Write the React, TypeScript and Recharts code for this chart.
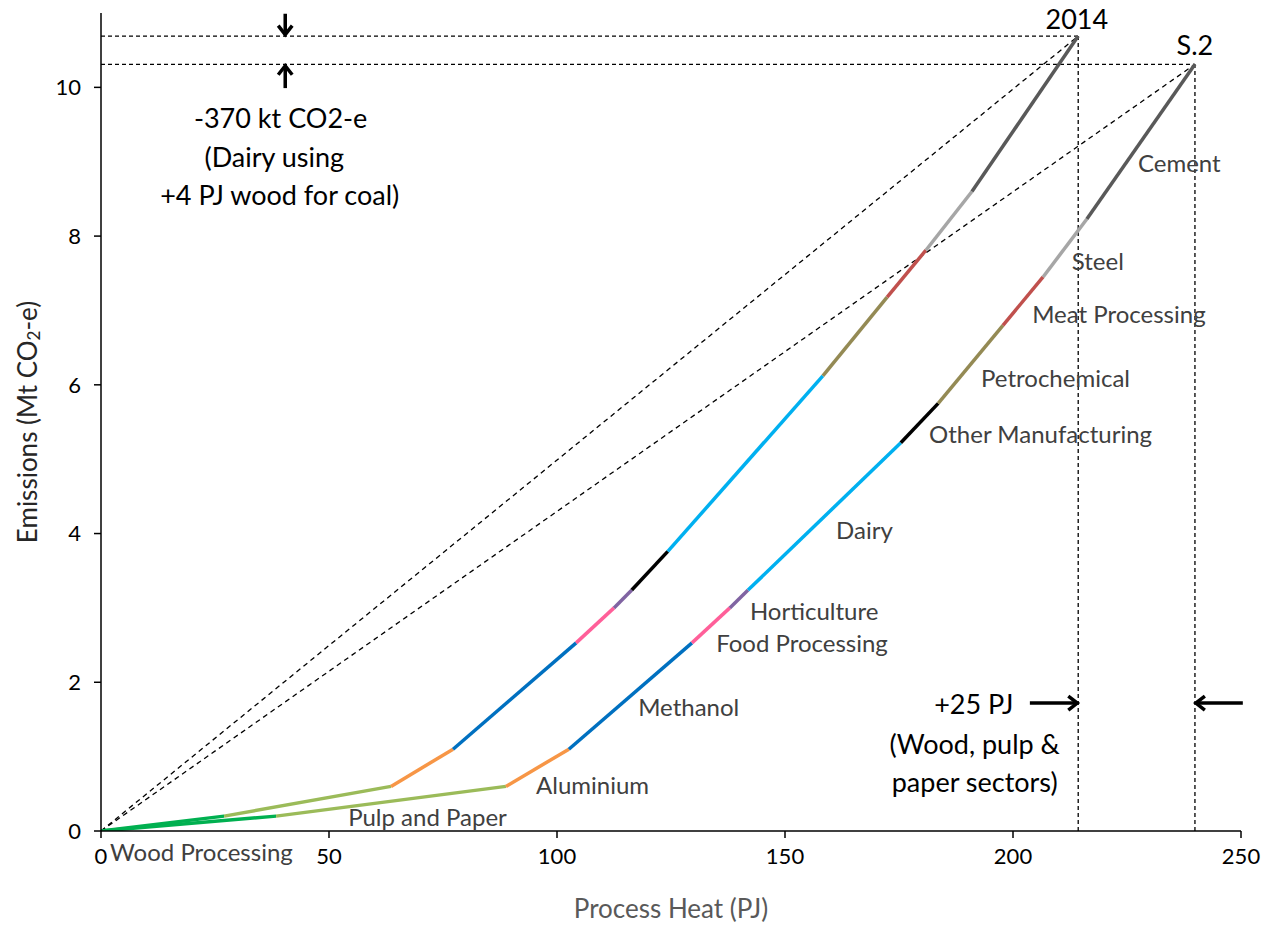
import { Line, LineChart, ReferenceDot, ReferenceLine, XAxis, YAxis } from "recharts";

const FONT = "Lato, 'Open Sans', sans-serif";

// sector order along each curve
const sectors2014 = [
  "Wood Processing",
  "Pulp and Paper",
  "Aluminium",
  "Methanol",
  "Food Processing",
  "Horticulture",
  "Other Manufacturing",
  "Dairy",
  "Petrochemical",
  "Meat Processing",
  "Steel",
  "Cement",
];
const heat2014 = [0, 27.0, 63.6, 77.2, 104.2, 112.5, 116.4, 124.3, 158.3, 172.4, 180.9, 191.0, 214.3];
const emis2014 = [0, 0.2, 0.6, 1.1, 2.53, 3.0, 3.24, 3.76, 6.12, 7.18, 7.81, 8.6, 10.69];

const sectorsS2 = [
  "Wood Processing",
  "Pulp and Paper",
  "Aluminium",
  "Methanol",
  "Food Processing",
  "Horticulture",
  "Dairy",
  "Other Manufacturing",
  "Petrochemical",
  "Meat Processing",
  "Steel",
  "Cement",
];
const heatS2 = [0, 38.4, 88.8, 102.6, 129.6, 137.9, 141.9, 175.4, 183.6, 197.8, 206.6, 216.2, 239.9];
const emisS2 = [0, 0.2, 0.6, 1.1, 2.53, 3.0, 3.24, 5.22, 5.75, 6.8, 7.45, 8.23, 10.31];

const xTicks = [0, 50, 100, 150, 200, 250];
const yTicks = [0, 2, 4, 6, 8, 10];

const sectorColors: Record<string, string> = {
  "Wood Processing": "#00B050",
  "Pulp and Paper": "#9BBB59",
  Aluminium: "#F79646",
  Methanol: "#0070C0",
  "Food Processing": "#FF5F99",
  Horticulture: "#8064A2",
  "Other Manufacturing": "#000000",
  Dairy: "#00B0F0",
  Petrochemical: "#948A54",
  "Meat Processing": "#C0504D",
  Steel: "#A6A6A6",
  Cement: "#595959",
};

// sector label anchors (left edge, vertical centre) in data units
const sectorLabels = [
  { text: "Wood Processing", x: 2.0, y: -0.27 },
  { text: "Pulp and Paper", x: 54.2, y: 0.19 },
  { text: "Aluminium", x: 95.4, y: 0.62 },
  { text: "Methanol", x: 117.8, y: 1.67 },
  { text: "Food Processing", x: 134.9, y: 2.54 },
  { text: "Horticulture", x: 142.3, y: 2.97 },
  { text: "Dairy", x: 161.2, y: 4.05 },
  { text: "Other Manufacturing", x: 181.6, y: 5.35 },
  { text: "Petrochemical", x: 193.0, y: 6.1 },
  { text: "Meat Processing", x: 204.2, y: 6.96 },
  { text: "Steel", x: 212.9, y: 7.67 },
  { text: "Cement", x: 227.4, y: 8.99 },
];

// centred black annotations
const notes = [
  { text: "2014", x: 214.0, y: 10.93 },
  { text: "S.2", x: 239.9, y: 10.58 },
  { text: "-370 kt CO2-e", x: 39.4, y: 9.6 },
  { text: "(Dairy using", x: 38.0, y: 9.07 },
  { text: "+4 PJ wood for coal)", x: 39.2, y: 8.56 },
  { text: "+25 PJ", x: 191.4, y: 1.72 },
  { text: "(Wood, pulp &", x: 191.6, y: 1.18 },
  { text: "paper sectors)", x: 191.6, y: 0.67 },
];

const arrows = [
  { from: { x: 40.4, y: 10.99 }, to: { x: 40.4, y: 10.71 } },
  { from: { x: 40.4, y: 9.99 }, to: { x: 40.4, y: 10.29 } },
  { from: { x: 203.7, y: 1.72 }, to: { x: 214.1, y: 1.72 } },
  { from: { x: 250.4, y: 1.72 }, to: { x: 240.1, y: 1.72 } },
];

const segments = (heat: number[], emis: number[], sectors: string[]) =>
  sectors.map((name, i) => ({
    name,
    data: [
      { x: heat[i], y: emis[i] },
      { x: heat[i + 1], y: emis[i + 1] },
    ],
  }));

const seg2014 = segments(heat2014, emis2014, sectors2014);
const segS2 = segments(heatS2, emisS2, sectorsS2);

const ends = [
  { x: heat2014[heat2014.length - 1], y: emis2014[emis2014.length - 1] },
  { x: heatS2[heatS2.length - 1], y: emisS2[emisS2.length - 1] },
];

const Arrow = (props: any) => {
  const { x1, y1, x2, y2 } = props;
  const dx = x2 - x1;
  const dy = y2 - y1;
  const len = Math.sqrt(dx * dx + dy * dy) || 1;
  const ux = dx / len;
  const uy = dy / len;
  const h = 9;
  const w = 7;
  const bx = x2 - ux * h;
  const by = y2 - uy * h;
  return (
    <g>
      <line x1={x1} y1={y1} x2={x2 - ux * 2} y2={y2 - uy * 2} stroke="#000" strokeWidth={3.5} />
      <polyline
        points={`${bx - uy * w},${by + ux * w} ${x2},${y2} ${bx + uy * w},${by - ux * w}`}
        fill="none"
        stroke="#000"
        strokeWidth={3.5}
      />
    </g>
  );
};

const YTitle = (props: any) => {
  const vb = props.viewBox;
  const cx = vb.x + 27;
  const cy = vb.y + vb.height / 2;
  return (
    <text
      x={cx}
      y={cy}
      transform={`rotate(-90 ${cx} ${cy})`}
      textAnchor="middle"
      dominantBaseline="central"
      fontFamily={FONT}
      fontSize={26}
      fill="#262626"
    >
      Emissions (Mt CO
      <tspan fontSize={17} dy={6}>2</tspan>
      <tspan dy={-6}>-e)</tspan>
    </text>
  );
};

const XTitle = (props: any) => {
  const vb = props.viewBox;
  return (
    <text
      x={vb.x + vb.width / 2}
      y={vb.y + 77}
      textAnchor="middle"
      dominantBaseline="central"
      fontFamily={FONT}
      fontSize={26}
      fill="#595959"
    >
      Process Heat (PJ)
    </text>
  );
};

const textShape = (text: string, anchor: string, size: number, color: string) => (p: any) => (
  <text
    x={p.cx}
    y={p.cy}
    textAnchor={anchor}
    dominantBaseline="central"
    fontFamily={FONT}
    fontSize={size}
    fill={color}
  >
    {text}
  </text>
);

export default function App() {
  return (
    <div style={{ position: "absolute", left: 0, top: 0, background: "#fff" }}>
      <LineChart width={1267} height={926} margin={{ top: 13, right: 26, left: 0, bottom: 0 }}>
        <XAxis
          type="number"
          dataKey="x"
          domain={[0, 250]}
          ticks={xTicks}
          allowDataOverflow
          height={95}
          tickSize={7}
          tickMargin={10}
          axisLine={{ stroke: "#000", strokeWidth: 1.5 }}
          tickLine={{ stroke: "#000", strokeWidth: 1.5 }}
          tick={{ fill: "#000", fontSize: 22, fontFamily: FONT }}
          label={<XTitle />}
        />
        <YAxis
          type="number"
          dataKey="y"
          domain={[0, 11]}
          ticks={yTicks}
          allowDataOverflow
          width={101}
          tickSize={7}
          tickMargin={13}
          axisLine={{ stroke: "#000", strokeWidth: 1.5 }}
          tickLine={{ stroke: "#000", strokeWidth: 1.5 }}
          tick={{ fill: "#000", fontSize: 22, fontFamily: FONT }}
          label={<YTitle />}
        />

        {ends.map((e, i) => (
          <ReferenceLine
            key={`d${i}`}
            segment={[{ x: 0, y: 0 }, e]}
            stroke="#000"
            strokeWidth={1.3}
            strokeDasharray="5 4"
            ifOverflow="visible"
          />
        ))}
        {ends.map((e, i) => (
          <ReferenceLine
            key={`h${i}`}
            segment={[{ x: 0, y: e.y }, e]}
            stroke="#000"
            strokeWidth={1.3}
            strokeDasharray="4 3"
            ifOverflow="visible"
          />
        ))}
        {ends.map((e, i) => (
          <ReferenceLine
            key={`v${i}`}
            segment={[{ x: e.x, y: 0 }, e]}
            stroke="#000"
            strokeWidth={1.3}
            strokeDasharray="4 3"
            ifOverflow="visible"
          />
        ))}

        {seg2014.map((s, i) => (
          <Line
            key={`a${i}`}
            data={s.data}
            dataKey="y"
            type="linear"
            stroke={sectorColors[s.name]}
            strokeWidth={3.5}
            dot={false}
            activeDot={false}
            isAnimationActive={false}
          />
        ))}
        {segS2.map((s, i) => (
          <Line
            key={`b${i}`}
            data={s.data}
            dataKey="y"
            type="linear"
            stroke={sectorColors[s.name]}
            strokeWidth={3.5}
            dot={false}
            activeDot={false}
            isAnimationActive={false}
          />
        ))}

        {arrows.map((a, i) => (
          <ReferenceLine key={`ar${i}`} segment={[a.from, a.to]} ifOverflow="visible" shape={<Arrow />} />
        ))}

        {sectorLabels.map((l, i) => (
          <ReferenceDot
            key={`l${i}`}
            x={l.x}
            y={l.y}
            ifOverflow="visible"
            shape={textShape(l.text, "start", 24, "#404040")}
          />
        ))}
        {notes.map((n, i) => (
          <ReferenceDot
            key={`n${i}`}
            x={n.x}
            y={n.y}
            ifOverflow="visible"
            shape={textShape(n.text, "middle", 27, "#000")}
          />
        ))}
      </LineChart>
    </div>
  );
}
